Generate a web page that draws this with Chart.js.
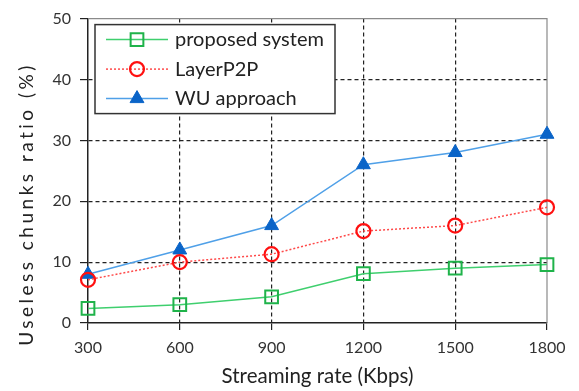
<!DOCTYPE html>
<html><head><meta charset="utf-8">
<script src="https://cdn.jsdelivr.net/npm/chart.js@4"></script>
<style>html,body{margin:0;padding:0;background:#fff}#wrap{width:579px;height:391px}</style>
</head><body><div id="wrap"><canvas id="c" width="579" height="391"></canvas></div>
<script>
const rates = [300, 600, 900, 1200, 1500, 1800];
const proposed = [2.4, 3.0, 4.3, 8.1, 9.0, 9.6];
const layerP2P = [7.1, 10.0, 11.3, 15.1, 16.0, 19.0];
const wuApproach = [8.0, 12.0, 16.0, 26.0, 28.0, 31.0];
const yTicks = [0, 10, 20, 30, 40, 50];
const seriesNames = ['proposed system', 'LayerP2P', 'WU approach'];
const xTitle = 'Streaming rate (Kbps)';
const yTitle = 'Useless chunks ratio (%)';

const FONT = 'Lato';
const toPts = arr => arr.map((v, i) => ({x: rates[i], y: v}));

const datasets = [
  {label: seriesNames[0], data: toPts(proposed), borderColor: '#3fcf6e', borderWidth: 1.5,
   pointStyle: 'rect', pointRadius: 9, pointBorderColor: '#1fb34a', pointBackgroundColor: 'rgba(255,255,255,0)', pointBorderWidth: 2, clip: false},
  {label: seriesNames[1], data: toPts(layerP2P), borderColor: '#ff4a4a', borderWidth: 1.5, borderDash: [2, 2],
   pointStyle: 'circle', pointRadius: 7, pointBorderColor: '#ff1010', pointBackgroundColor: 'rgba(255,255,255,0)', pointBorderWidth: 2.2, clip: false},
  {label: seriesNames[2], data: toPts(wuApproach), borderColor: '#4fa0e8', borderWidth: 1.5,
   pointStyle: 'triangle', pointRadius: 8, pointBorderColor: '#0a64c8', pointBackgroundColor: '#0a64c8', pointBorderWidth: 1, clip: false}
];

const framePlugin = {
  id: 'frame',
  beforeDatasetsDraw(chart) {
    const {ctx, chartArea: a} = chart;
    ctx.save();
    ctx.strokeStyle = '#8a8a8a'; ctx.lineWidth = 1.2;
    ctx.beginPath();
    ctx.moveTo(a.left, a.top); ctx.lineTo(a.right, a.top); ctx.lineTo(a.right, a.bottom);
    ctx.stroke();
    // legend box
    const bx = a.left + 7, by = a.top + 6, bw = 240, bh = 89;
    ctx.fillStyle = '#fff'; ctx.fillRect(bx, by, bw, bh);
    ctx.strokeStyle = '#333'; ctx.lineWidth = 1.5; ctx.strokeRect(bx, by, bw, bh);
    chart.data.datasets.forEach((ds, i) => {
      const y = by + 15 + i * 29.5;
      const x1 = bx + 11, x2 = bx + 73, xm = bx + 42;
      ctx.save();
      ctx.strokeStyle = ds.borderColor; ctx.lineWidth = ds.borderWidth;
      ctx.setLineDash(ds.borderDash || []);
      ctx.beginPath(); ctx.moveTo(x1, y); ctx.lineTo(x2, y); ctx.stroke();
      ctx.restore();
      ctx.save();
      ctx.strokeStyle = ds.pointBorderColor; ctx.fillStyle = ds.pointBackgroundColor;
      ctx.lineWidth = ds.pointBorderWidth;
      Chart.helpers.drawPoint(ctx, {pointStyle: ds.pointStyle, radius: ds.pointRadius, rotation: 0, borderWidth: ds.pointBorderWidth}, xm, y);
      ctx.restore();
      ctx.fillStyle = '#222'; ctx.font = '20px ' + FONT; ctx.textBaseline = 'middle'; ctx.textAlign = 'left';
      ctx.fillText(ds.label, bx + 80, y);
    });
    ctx.restore();
  },
  afterDraw(chart) {
    const {ctx} = chart;
    ctx.save();
    ctx.translate(27, 204);
    ctx.rotate(-Math.PI / 2);
    ctx.font = '19px ' + FONT; ctx.fillStyle = '#222';
    ctx.textAlign = 'center'; ctx.textBaseline = 'middle';
    ctx.letterSpacing = '3.5px';
    ctx.fillText(yTitle, 0, 0);
    ctx.restore();
  }
};

new Chart(document.getElementById('c'), {
  type: 'line',
  data: {datasets},
  options: {
    responsive: false, animation: false, devicePixelRatio: 1,
    layout: {padding: {top: 15, right: 32, left: 0, bottom: 0}},
    plugins: {legend: {display: false}, tooltip: {enabled: false}},
    scales: {
      x: {
        type: 'linear', min: 300, max: 1800,
        afterBuildTicks: s => { s.ticks = rates.map(v => ({value: v})); },
        afterFit: s => { s.height = 68; },
        grid: {color: c => (c.index === 0 || c.index === rates.length - 1) ? 'rgba(0,0,0,0)' : '#222', lineWidth: 1.2,
               tickColor: '#222', tickLength: 7, tickBorderDash: []},
        border: {display: true, color: '#222', width: 1.5, dash: [4, 3]},
        ticks: {font: {family: FONT, size: 16}, color: '#333', padding: 8, maxRotation: 0,
                callback: v => String(v)},
        title: {display: true, text: xTitle, font: {family: FONT, size: 20.5}, color: '#222', padding: {top: 2, bottom: 2}}
      },
      y: {
        min: 0, max: 50,
        afterBuildTicks: s => { s.ticks = yTicks.map(v => ({value: v})); },
        afterFit: s => { s.width = 88; },
        grid: {color: c => (c.index === 0 || c.index === yTicks.length - 1) ? 'rgba(0,0,0,0)' : '#222', lineWidth: 1.2,
               tickColor: '#222', tickLength: 8, tickBorderDash: []},
        border: {display: true, color: '#222', width: 1.5, dash: [4, 3]},
        ticks: {font: {family: FONT, size: 16}, color: '#333', padding: 9}
      }
    }
  },
  plugins: [framePlugin]
});
</script>
</body></html>
